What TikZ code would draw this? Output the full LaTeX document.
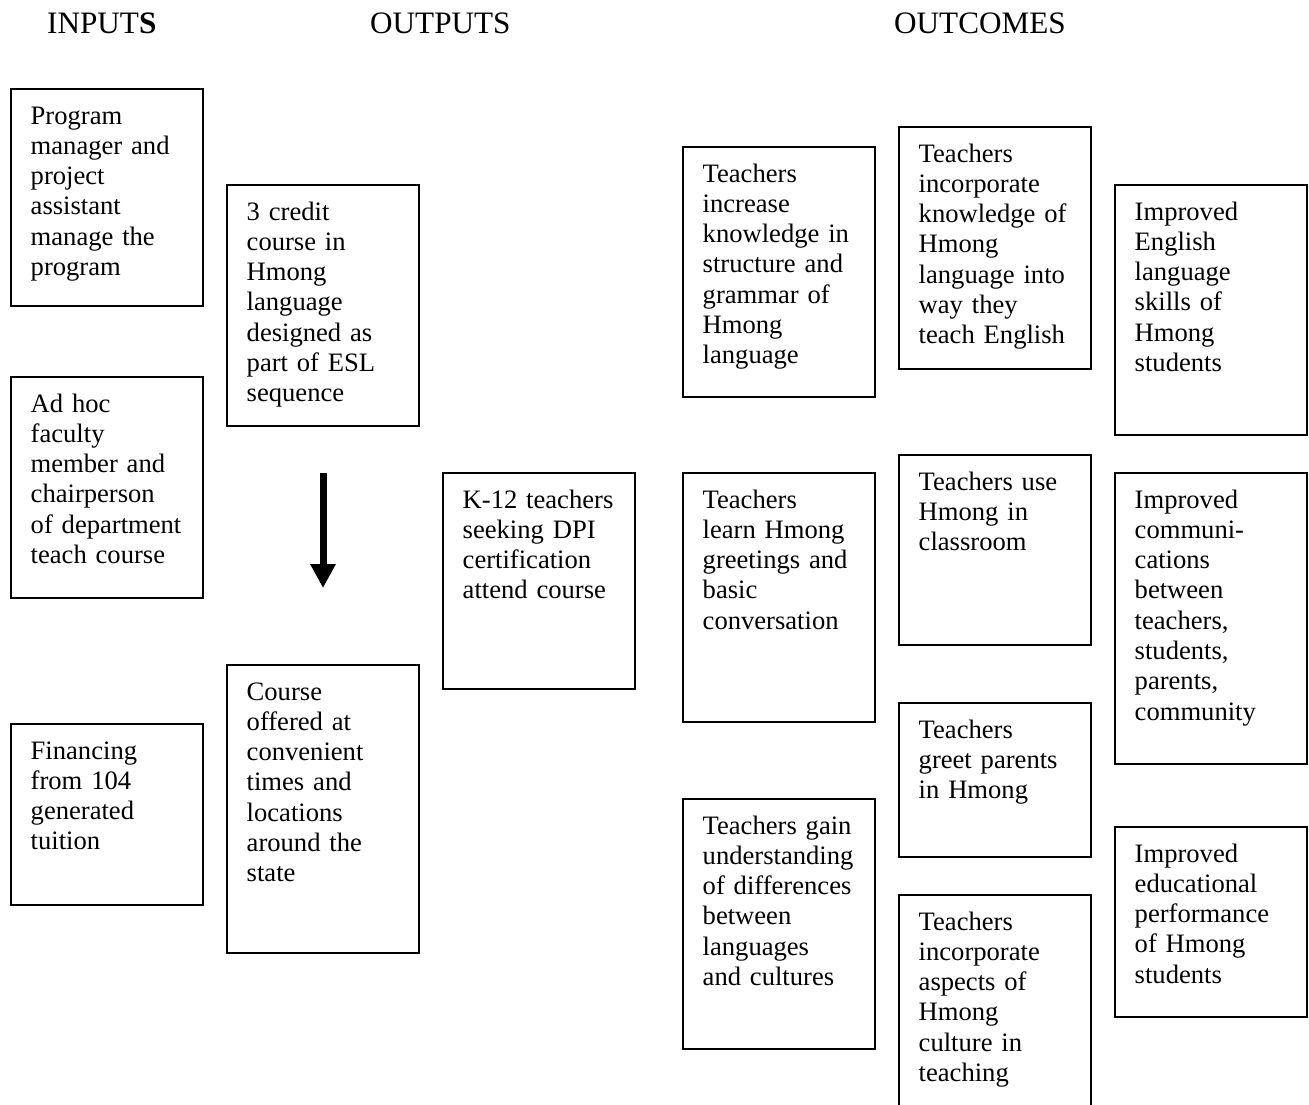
\documentclass[tikz,border=0pt]{standalone}
\usepackage{fontspec}
\setmainfont{Liberation Serif}
\usetikzlibrary{arrows.meta,fit}
\newcommand\mybox[6]{%
  \node[boxst, fit={(#2,#3) (#4,#5)}] (#1) {};
  \node[txt] (#1t) at ([xshift=20.5bp,yshift=-14.7bp]#1.north west) {\strut #6};}
\begin{document}
\begin{tikzpicture}[x=1bp,y=-1bp,
  boxst/.style={draw, line width=2bp, inner sep=0pt},
  txt/.style={font=\fontsize{26.7}{30.4}\selectfont, text width=178bp, align=left, inner sep=0pt, anchor=north west},
  head/.style={font=\fontsize{31.3}{36}\selectfont, inner sep=0pt, anchor=base west}]
\clip (0,0) rectangle (1309,1104);
\fill[white] (0,0) rectangle (1309,1104);
% headings
\node[head] (hin) at (47,33) {INPUT\textbf{S}};
\node[head] (hout) at (370,33) {OUTPUTS};
\node[head] (hoc) at (894,33) {OUTCOMES};
% inputs
\mybox{b1}{11}{89}{203}{306}{Program\\manager and\\project\\assistant\\manage the\\program}
\mybox{b2}{11}{377}{203}{598}{Ad hoc\\faculty\\member and\\chairperson\\of department\\teach course}
\mybox{b3}{11}{724}{203}{905}{Financing\\from 104\\generated\\tuition}
% outputs
\mybox{b4}{227}{185}{419}{426}{3 credit\\course in\\Hmong\\language\\designed as\\part of ESL\\sequence}
\mybox{b5}{227}{665}{419}{953}{Course\\offered at\\convenient\\times and\\locations\\around the\\state}
\mybox{b6}{443}{473}{635}{689}{K-12 teachers\\seeking DPI\\certification\\attend course}
% outcomes
\mybox{b7}{683}{147}{875}{397}{Teachers\\increase\\knowledge in\\structure and\\grammar of\\Hmong\\language}
\mybox{b8}{683}{473}{875}{722}{Teachers\\learn Hmong\\greetings and\\basic\\conversation}
\mybox{b9}{683}{799}{875}{1049}{Teachers gain\\understanding\\of differences\\between\\languages\\and cultures}
\mybox{b10}{899}{127}{1091}{369}{Teachers\\incorporate\\knowledge of\\Hmong\\language into\\way they\\teach English}
\mybox{b11}{899}{455}{1091}{645}{Teachers use\\Hmong in\\classroom}
\mybox{b12}{899}{703}{1091}{857}{Teachers\\greet parents\\in Hmong}
\mybox{b13}{899}{895}{1091}{1115}{Teachers\\incorporate\\aspects of\\Hmong\\culture in\\teaching}
\mybox{b14}{1115}{185}{1307}{435}{Improved\\English\\language\\skills of\\Hmong\\students}
\mybox{b15}{1115}{473}{1307}{764}{Improved\\communi-\\cations\\between\\teachers,\\students,\\parents,\\community}
\mybox{b16}{1115}{827}{1307}{1017}{Improved\\educational\\performance\\of Hmong\\students}
% arrow
\coordinate (ar0) at (323,473);
\coordinate (ar1) at (323,588);
\draw[line width=7bp, -{Triangle[width=24bp,length=24bp]}] (ar0) -- (ar1);
\end{tikzpicture}
\end{document}
